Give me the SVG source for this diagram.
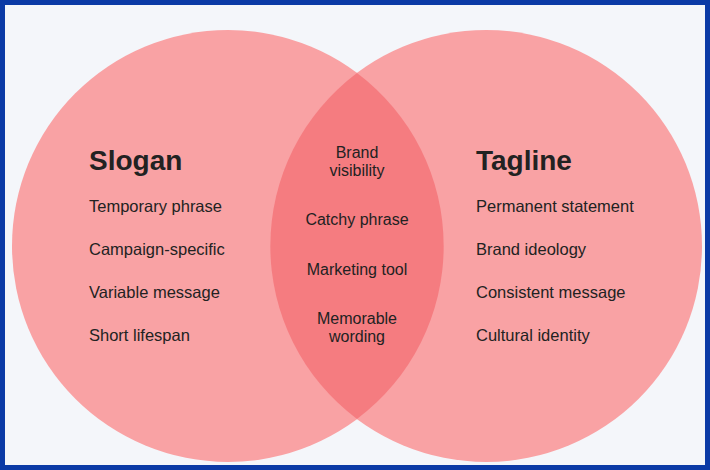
<svg xmlns="http://www.w3.org/2000/svg" width="710" height="470" viewBox="0 0 710 470">
<style>
.t{font-family:"Liberation Sans",Arial,sans-serif;fill:#222;}
.h{font-size:28px;font-weight:bold;}
.i{font-size:16.5px;}
.c{font-size:16px;text-anchor:middle;}
.circ{fill:#f9a2a4;}
</style>
<rect x="0" y="0" width="710" height="470" fill="#0b3aa6"/>
<rect x="5" y="5" width="700" height="460" fill="#f4f6fa"/>
<g id="slogan">
<circle class="circ" cx="228" cy="246" r="216"/>
<text class="t h" x="89" y="170">Slogan</text>
<text class="t i" x="89" y="212">Temporary phrase</text>
<text class="t i" x="89" y="255">Campaign-specific</text>
<text class="t i" x="89" y="298">Variable message</text>
<text class="t i" x="89" y="341">Short lifespan</text>
</g>
<g id="tagline">
<circle class="circ" cx="486" cy="246" r="216"/>
<text class="t h" x="476" y="170">Tagline</text>
<text class="t i" x="476" y="212">Permanent statement</text>
<text class="t i" x="476" y="255">Brand ideology</text>
<text class="t i" x="476" y="298">Consistent message</text>
<text class="t i" x="476" y="341">Cultural identity</text>
</g>
<g id="overlap">
<path d="M357,73 A216,216 0 0 1 357,419 A216,216 0 0 1 357,73 Z" fill="#f57c80"/>
<text class="t c" x="357" y="158">Brand</text>
<text class="t c" x="357" y="176">visibility</text>
<text class="t c" x="357" y="225">Catchy phrase</text>
<text class="t c" x="357" y="275">Marketing tool</text>
<text class="t c" x="357" y="324">Memorable</text>
<text class="t c" x="357" y="342">wording</text>
</g>
<g id="connectors"/>
</svg>
